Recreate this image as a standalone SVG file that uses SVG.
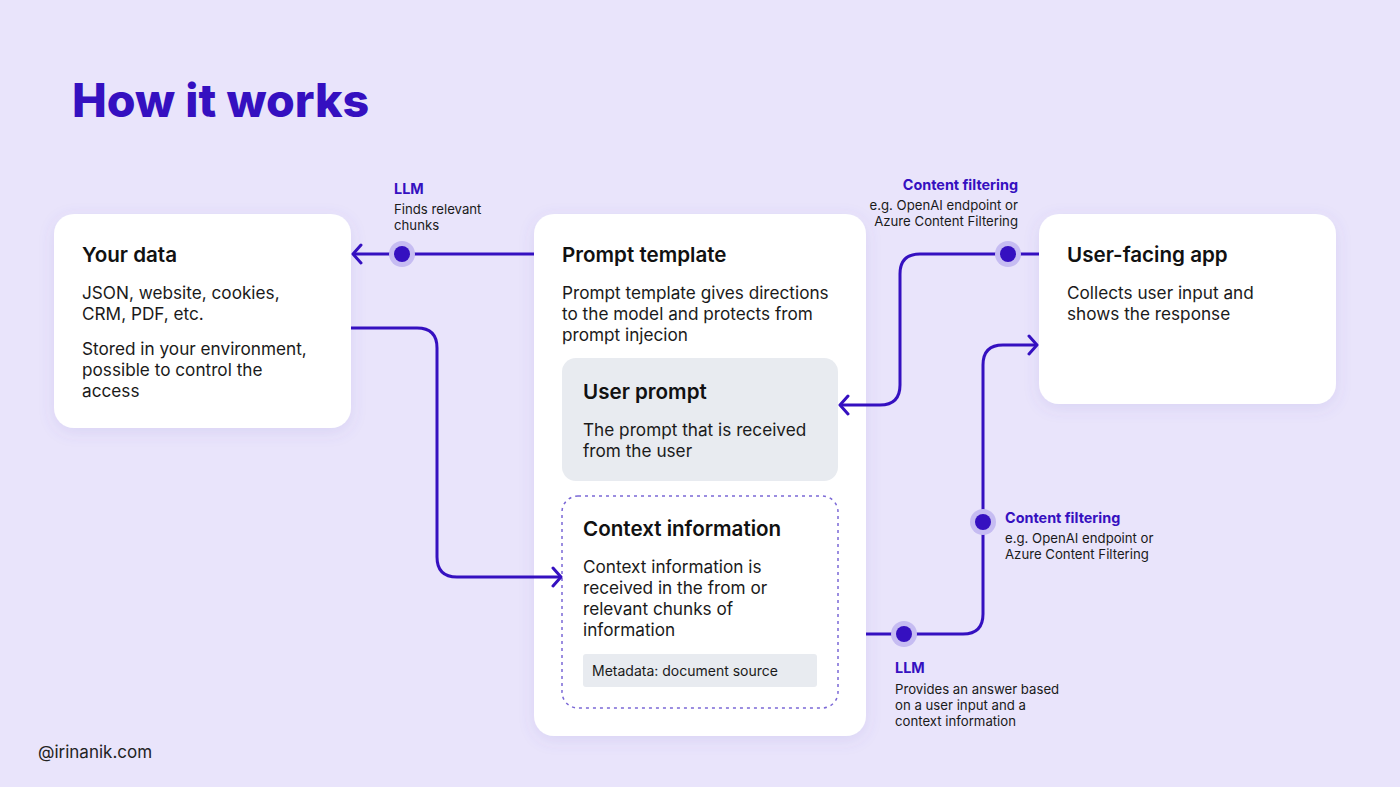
<svg xmlns="http://www.w3.org/2000/svg" width="1400" height="787" viewBox="0 0 1400 787">
<defs>
<filter id="sh" x="-20%" y="-20%" width="140%" height="140%">
<feDropShadow dx="0" dy="4" stdDeviation="8" flood-color="#6a55c0" flood-opacity="0.12"/>
</filter>
<marker id="arr" markerUnits="userSpaceOnUse" markerWidth="20" markerHeight="24" refX="10" refY="10" orient="auto" viewBox="0 0 20 20">
<path d="M2,1 L10,10 L2,19" fill="none" stroke="#3510C0" stroke-width="3" stroke-linecap="round" stroke-linejoin="round"/>
</marker>
</defs>
<style>
.box{fill:#ffffff;filter:url(#sh)}
.h{font-family:Inter,"Noto Sans",sans-serif;font-weight:600;font-size:20.6px;fill:#111111}
.t{font-family:Inter,"Noto Sans",sans-serif;font-size:17.2px;fill:#1a1a1a}
.lb{font-family:Inter,"Noto Sans",sans-serif;font-weight:700;font-size:14.4px;fill:#3510C0}
.ls{font-family:Inter,"Noto Sans",sans-serif;font-size:13.2px;fill:#1a1a1a}
.c{fill:none;stroke:#3510C0;stroke-width:3}
.halo{fill:#C6BCF2}
.dot{fill:#3510C0}
</style>
<rect width="1400" height="787" fill="#E9E4FB"/>
<text x="72" y="117" font-family="Inter,'Noto Sans',sans-serif" font-weight="800" font-size="46.5" fill="#3510C0">How it works</text>

<g id="your-data">
<rect class="box" x="54" y="214" width="297" height="214" rx="20"/>
<text class="h" x="82" y="262">Your data</text>
<text class="t" x="82" y="299">JSON, website, cookies,</text>
<text class="t" x="82" y="320">CRM, PDF, etc.</text>
<text class="t" x="82" y="355">Stored in your environment,</text>
<text class="t" x="82" y="376">possible to control the</text>
<text class="t" x="82" y="397">access</text>
</g>

<g id="prompt-template">
<rect class="box" x="534" y="214" width="332" height="522" rx="20"/>
<text class="h" x="562" y="262">Prompt template</text>
<text class="t" x="562" y="299">Prompt template gives directions</text>
<text class="t" x="562" y="320">to the model and protects from</text>
<text class="t" x="562" y="341">prompt injecion</text>
</g>

<g id="user-prompt">
<rect x="562" y="358" width="276" height="123" rx="14" fill="#E8EBF0"/>
<text class="h" x="583" y="399">User prompt</text>
<text class="t" x="583" y="436">The prompt that is received</text>
<text class="t" x="583" y="457">from the user</text>
</g>

<g id="context-information">
<rect x="562" y="496" width="276" height="212" rx="16" fill="#ffffff" stroke="#7B68D6" stroke-width="1.5" stroke-dasharray="3 4"/>
<text class="h" x="583" y="536">Context information</text>
<text class="t" x="583" y="573">Context information is</text>
<text class="t" x="583" y="594">received in the from or</text>
<text class="t" x="583" y="615">relevant chunks of</text>
<text class="t" x="583" y="636">information</text>
<rect x="583" y="654" width="234" height="33" rx="3" fill="#E8EBF0"/>
<text x="592" y="676" font-family="Inter,'Noto Sans',sans-serif" font-size="14" fill="#1a1a1a">Metadata: document source</text>
</g>

<g id="user-facing-app">
<rect class="box" x="1039" y="214" width="297" height="190" rx="20"/>
<text class="h" x="1067" y="262">User-facing app</text>
<text class="t" x="1067" y="299">Collects user input and</text>
<text class="t" x="1067" y="320">shows the response</text>
</g>

<g id="connectors">
<path class="c" d="M534,254 H353" marker-end="url(#arr)"/>
<path class="c" d="M351,328 H417 Q437,328 437,348 V557 Q437,577 457,577 H561" marker-end="url(#arr)"/>
<path class="c" d="M1039,254 H920 Q900,254 900,274 V385 Q900,405 880,405 H840" marker-end="url(#arr)"/>
<path class="c" d="M866,634 H963 Q983,634 983,614 V365 Q983,345 1003,345 H1037" marker-end="url(#arr)"/>
<circle class="halo" cx="402" cy="254" r="13"/><circle class="dot" cx="402" cy="254" r="8"/>
<circle class="halo" cx="1008" cy="254" r="13"/><circle class="dot" cx="1008" cy="254" r="8"/>
<circle class="halo" cx="983" cy="522" r="13"/><circle class="dot" cx="983" cy="522" r="8"/>
<circle class="halo" cx="904" cy="634" r="13"/><circle class="dot" cx="904" cy="634" r="8"/>
</g>

<g id="labels">
<text class="lb" x="394" y="194">LLM</text>
<text class="ls" x="394" y="214">Finds relevant</text>
<text class="ls" x="394" y="230">chunks</text>
<text class="lb" x="1018" y="190" text-anchor="end">Content filtering</text>
<text class="ls" x="1018" y="210" text-anchor="end">e.g. OpenAI endpoint or</text>
<text class="ls" x="1018" y="226" text-anchor="end">Azure Content Filtering</text>
<text class="lb" x="1005" y="523">Content filtering</text>
<text class="ls" x="1005" y="543">e.g. OpenAI endpoint or</text>
<text class="ls" x="1005" y="559">Azure Content Filtering</text>
<text class="lb" x="895" y="673">LLM</text>
<text class="ls" x="895" y="694">Provides an answer based</text>
<text class="ls" x="895" y="710">on a user input and a</text>
<text class="ls" x="895" y="726">context information</text>
</g>

<text x="38" y="758" font-family="Inter,'Noto Sans',sans-serif" font-size="17" fill="#222222">@irinanik.com</text>
</svg>
